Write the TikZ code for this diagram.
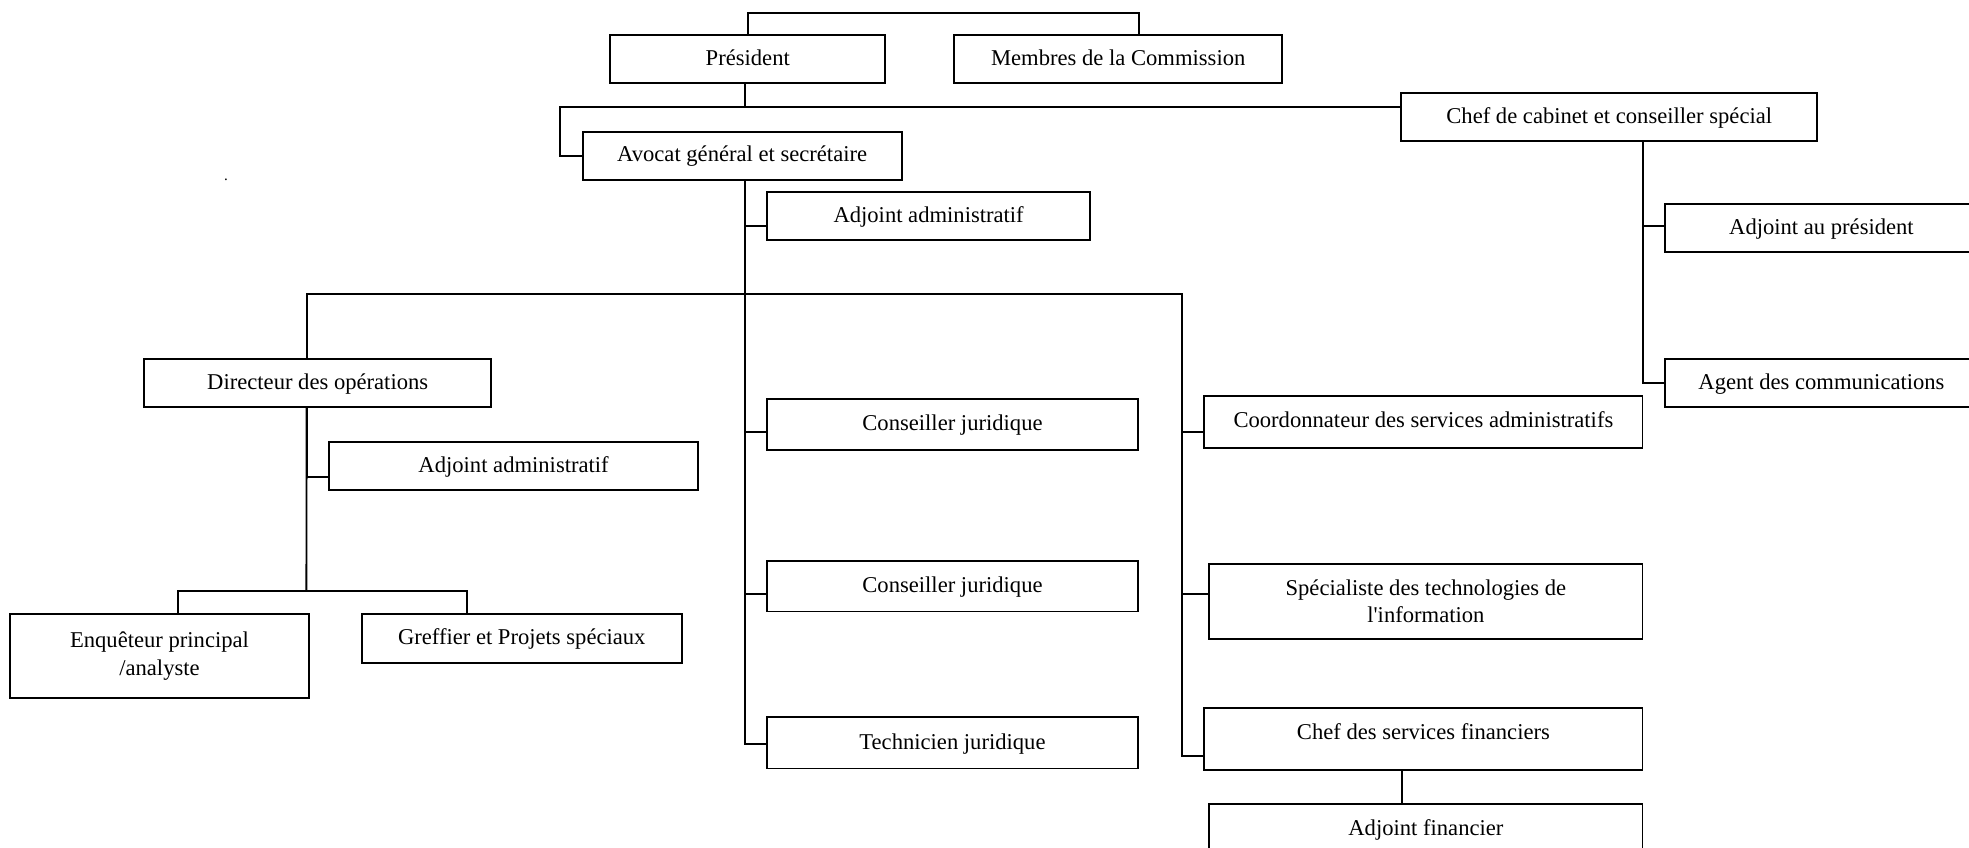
\documentclass[tikz,border=0pt]{standalone}
\usepackage{fontspec}
\setmainfont{Liberation Serif}
\begin{document}
\begin{tikzpicture}[x=0.5pt,y=-0.5pt,
  box/.style={draw, line width=.75pt, inner sep=0pt, align=center,
    font=\fontsize{9pt}{10.85pt}\selectfont},
  sbox/.style={box, text height=6.5pt, text depth=1.5pt},
  conn/.style={line width=.75pt}]
\useasboundingbox (0,0) rectangle (1568,675);
\clip (0,0) rectangle (1568,675);
% boxes
\node[sbox, minimum width=109.5pt, minimum height=19pt] (pres) at (595.5,47) {Président};
\node[sbox, minimum width=130.5pt, minimum height=19pt] (memb) at (890.5,47) {Membres de la Commission};
\node[sbox, minimum width=165.5pt, minimum height=19pt] (chef) at (1281.5,93) {Chef de cabinet et conseiller spécial};
\node[sbox, minimum width=127pt, minimum height=19pt] (avocat) at (591,124) {Avocat général et secrétaire};
\node[sbox, minimum width=128.5pt, minimum height=19pt] (adjA) at (739.5,172) {Adjoint administratif};
\node[sbox, minimum width=124.5pt, minimum height=19pt] (adjP) at (1450.5,181.5) {Adjoint au président};
\node[sbox, minimum width=124.5pt, minimum height=19pt] (agent) at (1450.5,305) {Agent des communications};
\node[sbox, minimum width=138pt, minimum height=19pt] (dir) at (253,305) {Directeur des opérations};
\node[sbox, minimum width=147pt, minimum height=19pt] (adjB) at (409,371) {Adjoint administratif};
\node[box, minimum width=119pt, minimum height=33.5pt] (enq) at (127,522.5) {Enquêteur principal\\/analyste};
\node[sbox, minimum width=127.5pt, minimum height=19.5pt] (greff) at (415.5,508.5) {Greffier et Projets spéciaux};
\node[sbox, minimum width=147.5pt, minimum height=20pt] (cj1) at (758.5,338) {Conseiller juridique};
\node[sbox, minimum width=147.5pt, minimum height=20pt] (cj2) at (758.5,467) {Conseiller juridique};
\node[sbox, minimum width=147.5pt, minimum height=20.5pt] (tech) at (758.5,591.5) {Technicien juridique};
\node[sbox, minimum width=174.5pt, minimum height=20.75pt] (coord) at (1133.5,335.75) {Coordonnateur des services administratifs};
\node[box, minimum width=172.5pt, minimum height=30pt] (spec) at (1135.5,479) {Spécialiste des technologies de\\l\textquotesingle information};
\node[box, text height=6.5pt, text depth=5.9pt, minimum width=174.5pt, minimum height=24.8pt] (chefF) at (1133.5,588.4) {Chef des services financiers};
\node[sbox, minimum width=172.5pt, minimum height=20pt] (adjF) at (1135.5,660) {Adjoint financier};
\node[font=\fontsize{6pt}{7pt}\selectfont, inner sep=0pt] (dot) at (180,143) {.};
% coordinates
\coordinate (topbar) at (907,10);
\coordinate (hubL) at (446,85);
\coordinate (rtop) at (941,234.4);
\coordinate (dj) at (244,470.7);
% connectors
\draw[conn] (pres.north) |- (topbar) -- ([xshift=8.25pt]memb.north);
\draw[conn] ([xshift=-1.25pt]pres.south) |- (hubL);
\draw[conn] (avocat.west) -| (hubL) -- ([yshift=4pt]chef.west);
\draw[conn] ([xshift=1pt]avocat.south) |- ([yshift=-0.65pt]tech.west);
\draw[conn] ([xshift=1pt]avocat.south) |- ([yshift=-4pt]adjA.west);
\draw[conn] ([xshift=1pt]avocat.south) |- ([yshift=-3.15pt]cj1.west);
\draw[conn] ([xshift=1pt]avocat.south) |- ([yshift=-3.15pt]cj2.west);
\draw[conn] ([xshift=-4.4pt]dir.north) |- (rtop) |- ([yshift=-6.7pt]chefF.west);
\draw[conn] (rtop) |- ([yshift=-4.3pt]coord.west);
\draw[conn] (rtop) |- ([yshift=2.85pt]spec.west);
\draw[conn] ([xshift=-8.6pt]chefF.south) -- ([xshift=-9.6pt]adjF.north);
\draw[conn] ([xshift=13.5pt]chef.south) |- (agent.west);
\draw[conn] ([xshift=13.5pt]chef.south) |- ([yshift=0.9pt]adjP.west);
\draw[conn] ([xshift=-4.4pt]dir.south) -- (dj);
\draw[conn] ([xshift=-4.4pt]dir.south) |- ([yshift=-4.3pt]adjB.west);
\draw[conn] ([xshift=7.25pt]enq.north) |- (dj) -| ([xshift=-21.65pt]greff.north);
\end{tikzpicture}
\end{document}
